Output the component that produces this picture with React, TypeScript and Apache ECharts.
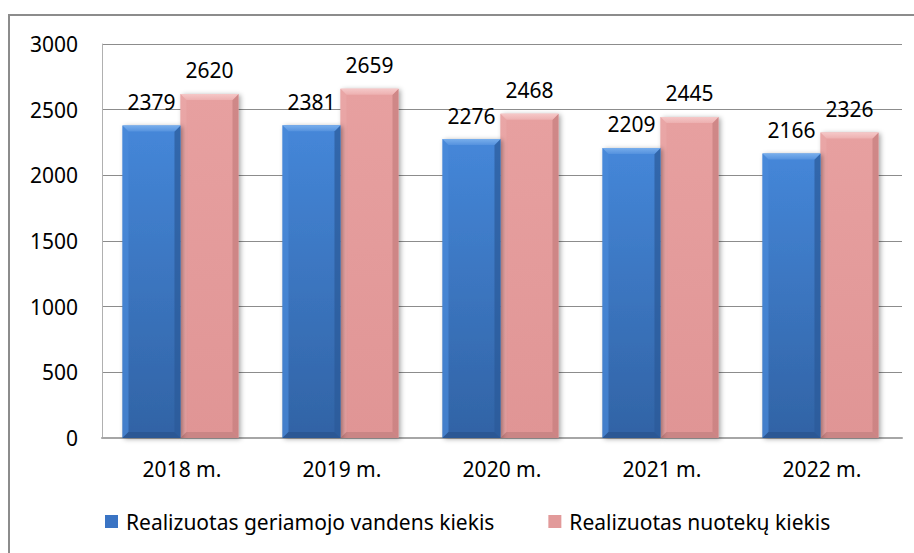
import React, { useEffect, useRef } from "react";
import * as echarts from "echarts";

const years = ["2018 m.", "2019 m.", "2020 m.", "2021 m.", "2022 m."];
const drinkingWater = [2379, 2381, 2276, 2209, 2166];
const wastewater = [2620, 2659, 2468, 2445, 2326];
const seriesNames = ["Realizuotas geriamojo vandens kiekis", "Realizuotas nuotekų kiekis"];
const yTicks = { min: 0, max: 3000, interval: 500 };

const FONT = "'Noto Sans', 'Open Sans', sans-serif";
const FS = 21;

type Pal = { top: string; bottom: string; bevTop: string; bevTop2: string; bevLeft: string; bevRight: string; bevBottom: string; legend: string };
const bluePal: Pal = {
  top: "#4587D9",
  bottom: "#3163A5",
  bevTop: "#78AEEC",
  bevTop2: "#5592DE",
  bevLeft: "#4A8ADA",
  bevRight: "#2B5A98",
  bevBottom: "#2A5590",
  legend: "#3A74C4",
};
const pinkPal: Pal = {
  top: "#E7A0A0",
  bottom: "#E09595",
  bevTop: "#F5C8C8",
  bevTop2: "#EDB0B0",
  bevLeft: "#E9A8A8",
  bevRight: "#C47E7E",
  bevBottom: "#C68383",
  legend: "#E29A9A",
};

function makeRender(pal: Pal, side: number) {
  return (params: any, api: any) => {
    const idx = api.value(0);
    const val = api.value(1);
    const topPt = api.coord([idx, val]);
    const basePt = api.coord([idx, 0]);
    const band = api.size([1, 0])[0];
    const w = band * 0.3625;
    const cx = topPt[0] + side * (w / 2) - 1.5;
    const x0 = cx - w / 2;
    const x1 = cx + w / 2;
    const y0 = topPt[1];
    const y1 = basePt[1];
    const b = 6;
    return {
      type: "group",
      children: [
        {
          type: "rect",
          shape: { x: x0, y: y0, width: w, height: y1 - y0 },
          style: {
            fill: new echarts.graphic.LinearGradient(0, 0, 0, 1, [
              { offset: 0, color: pal.top },
              { offset: 1, color: pal.bottom },
            ]),
            shadowBlur: 5,
            shadowOffsetX: 2,
            shadowOffsetY: 1,
            shadowColor: "rgba(0,0,0,0.35)",
          },
        },
        {
          type: "polygon",
          shape: { points: [[x0, y0], [x0 + b, y0 + b], [x0 + b, y1 - b], [x0, y1]] },
          style: { fill: pal.bevLeft, opacity: 0.7 },
        },
        {
          type: "polygon",
          shape: { points: [[x1, y0], [x1 - b, y0 + b], [x1 - b, y1 - b], [x1, y1]] },
          style: { fill: pal.bevRight, opacity: 0.7 },
        },
        {
          type: "polygon",
          shape: { points: [[x0, y1], [x0 + b, y1 - b], [x1 - b, y1 - b], [x1, y1]] },
          style: { fill: pal.bevBottom, opacity: 0.85 },
        },
        {
          type: "polygon",
          shape: { points: [[x0, y0], [x1, y0], [x1 - b, y0 + b], [x0 + b, y0 + b]] },
          style: {
            fill: new echarts.graphic.LinearGradient(0, 0, 0, 1, [
              { offset: 0, color: pal.bevTop },
              { offset: 1, color: pal.bevTop2 },
            ]),
          },
        },
        {
          type: "text",
          style: {
            text: String(val),
            x: cx,
            y: y0 - 13,
            align: "center",
            verticalAlign: "bottom",
            fontSize: FS,
            fontFamily: FONT,
            fill: "#000",
          },
        },
      ],
    };
  };
}

export default function App() {
  const ref = useRef<HTMLDivElement>(null);
  useEffect(() => {
    if (!ref.current) return;
    const chart = echarts.init(ref.current, undefined, { renderer: "svg" });
    chart.setOption({
      animation: false,
      backgroundColor: "#fff",
      textStyle: { fontFamily: FONT },
      graphic: [
        {
          type: "rect",
          shape: { x: 9, y: 15, width: 1200, height: 1200 },
          style: { fill: "none", stroke: "#8C8C8C", lineWidth: 2 },
          z: -1,
        },
      ],
      grid: { left: 102, right: 12, top: 44, bottom: 115, containLabel: false },
      xAxis: {
        type: "category",
        data: years,
        axisTick: { show: false },
        axisLine: { show: true, lineStyle: { color: "#A6A6A6", width: 2 } },
        axisLabel: { color: "#000", fontSize: FS, fontFamily: FONT, margin: 20 },
      },
      yAxis: {
        type: "value",
        min: yTicks.min,
        max: yTicks.max,
        interval: yTicks.interval,
        axisLine: { show: true, lineStyle: { color: "#B0B0B0", width: 1 } },
        axisTick: { show: false },
        splitLine: { show: true, lineStyle: { color: "#8C8C8C", width: 1 } },
        axisLabel: {
          color: "#000",
          fontSize: FS,
          fontFamily: FONT,
          margin: 24,
          formatter: (v: number) => String(v),
        },
      },
      legend: {
        left: 100,
        top: 506,
        itemWidth: 13,
        itemHeight: 13,
        itemGap: 54,
        icon: "rect",
        textStyle: { color: "#000", fontSize: FS, fontFamily: FONT, padding: [0, 0, 0, 3] },
        data: seriesNames,
      },
      series: [
        {
          name: seriesNames[0],
          type: "custom",
          renderItem: makeRender(bluePal, -1),
          itemStyle: { color: bluePal.legend },
          encode: { x: 0, y: 1 },
          data: drinkingWater.map((v, i) => [i, v]),
          z: 3,
        },
        {
          name: seriesNames[1],
          type: "custom",
          renderItem: makeRender(pinkPal, 1),
          itemStyle: { color: pinkPal.legend },
          encode: { x: 0, y: 1 },
          data: wastewater.map((v, i) => [i, v]),
          z: 2,
        },
      ],
    });
    return () => chart.dispose();
  }, []);
  return <div ref={ref} style={{ position: "fixed", left: 0, top: 0, width: 914, height: 553 }} />;
}
